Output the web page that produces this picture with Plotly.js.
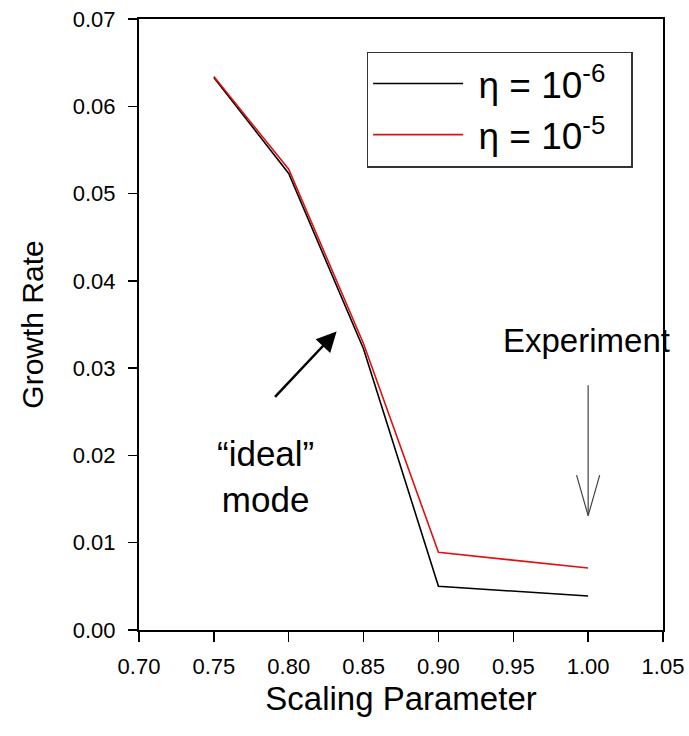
<!DOCTYPE html>
<html>
<head>
<meta charset="utf-8">
<script src="https://cdn.plot.ly/plotly-3.0.1.min.js"></script>
<style>
  html, body { margin: 0; padding: 0; background: #fff; }
  #chart { width: 689px; height: 736px; }
</style>
</head>
<body>
<div id="chart"></div>
<script>
// Data
const scalingParameter = [0.75, 0.80, 0.85, 0.90, 1.00];
const growthEta6 = [0.0633, 0.0523, 0.0322, 0.0050, 0.0039];
const growthEta5 = [0.0634, 0.0528, 0.0328, 0.0089, 0.0071];
const seriesNames = ['η = 10<sup>-6</sup>', 'η = 10<sup>-5</sup>'];
const xTicks = [0.70, 0.75, 0.80, 0.85, 0.90, 0.95, 1.00, 1.05];
const yTicks = [0.00, 0.01, 0.02, 0.03, 0.04, 0.05, 0.06, 0.07];

const FONT = 'Liberation Sans, Arial, Helvetica, sans-serif';
const LEAD = '\u00a0';          // gap between legend line and its label
const TRAIL = '\u00a0\u00a0';   // right padding inside legend box

const traces = [
  {
    x: scalingParameter, y: growthEta6, name: LEAD + seriesNames[0] + TRAIL,
    type: 'scatter', mode: 'lines',
    line: { color: '#000000', width: 1.6 }
  },
  {
    x: scalingParameter, y: growthEta5, name: LEAD + seriesNames[1] + TRAIL,
    type: 'scatter', mode: 'lines',
    line: { color: '#e01010', width: 1.6 }
  }
];

const layout = {
  width: 689, height: 736,
  margin: { l: 139, r: 26, t: 19, b: 106, pad: 0 },
  paper_bgcolor: '#ffffff', plot_bgcolor: '#ffffff',
  font: { family: FONT, color: '#000000' },
  showlegend: true,
  legend: {
    x: 0.942, y: 0.9468, xanchor: 'right', yanchor: 'top',
    bgcolor: '#ffffff', bordercolor: '#333333', borderwidth: 1.5,
    font: { family: FONT, size: 37, color: '#000000' },
    itemwidth: 90
  },
  xaxis: {
    range: [0.70, 1.05],
    tickvals: xTicks,
    ticktext: xTicks.map(v => v.toFixed(2)),
    ticks: 'outside', ticklen: 10, tickwidth: 1.5, tickcolor: '#000',
    showline: true, linewidth: 2, linecolor: '#000', mirror: true,
    showgrid: false, zeroline: false,
    ticklabelstandoff: 6,
    tickfont: { family: FONT, size: 22, color: '#000' },
    title: { text: 'Scaling Parameter', font: { family: FONT, size: 33, color: '#000' }, standoff: 8 }
  },
  yaxis: {
    range: [0, 0.07],
    tickvals: yTicks,
    ticktext: yTicks.map(v => v.toFixed(2)),
    ticks: 'outside', ticklen: 9, tickwidth: 1.5, tickcolor: '#000',
    showline: true, linewidth: 2, linecolor: '#000', mirror: true,
    showgrid: false, zeroline: false,
    ticklabelstandoff: 8,
    tickfont: { family: FONT, size: 22, color: '#000' },
    title: { text: 'Growth Rate', font: { family: FONT, size: 30, color: '#000' }, standoff: 20 }
  },
  annotations: [
    // "ideal" mode label
    {
      x: 0.7847, y: 0.0176, xref: 'x', yref: 'y',
      text: '“ideal”<br>mode', showarrow: false,
      font: { family: FONT, size: 35, color: '#000' }, align: 'center'
    },
    // arrow pointing to ideal mode
    {
      x: 0.832, y: 0.0342, xref: 'x', yref: 'y',
      text: '', showarrow: true, ax: -63, ay: 67,
      arrowhead: 2, arrowsize: 1.6, arrowwidth: 2.5, arrowcolor: '#000'
    },
    // Experiment label
    {
      x: 0.999, y: 0.0332, xref: 'x', yref: 'y',
      text: 'Experiment', showarrow: false,
      font: { family: FONT, size: 33, color: '#000' }
    },
    // Experiment arrow shaft
    {
      x: 1.00, y: 0.0131, xref: 'x', yref: 'y',
      text: '', showarrow: true, ax: 0, ay: -132,
      arrowhead: 0, arrowwidth: 1.2, arrowcolor: '#444'
    },
    // open arrowhead (two strokes)
    {
      x: 1.00, y: 0.0131, xref: 'x', yref: 'y',
      text: '', showarrow: true, ax: -12, ay: -42,
      arrowhead: 0, arrowwidth: 1.2, arrowcolor: '#444'
    },
    {
      x: 1.00, y: 0.0131, xref: 'x', yref: 'y',
      text: '', showarrow: true, ax: 12, ay: -42,
      arrowhead: 0, arrowwidth: 1.2, arrowcolor: '#444'
    }
  ]
};

Plotly.newPlot('chart', traces, layout, { displayModeBar: false, staticPlot: true });
</script>
</body>
</html>
